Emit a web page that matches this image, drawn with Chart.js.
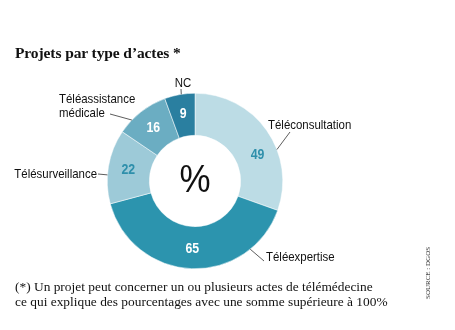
<!DOCTYPE html>
<html>
<head>
<meta charset="utf-8">
<script src="https://cdn.jsdelivr.net/npm/chart.js@4/dist/chart.umd.min.js"></script>
<style>
    html, body { margin: 0; padding: 0; background: #fff; }
    #wrap { position: relative; width: 455px; height: 330px; overflow: hidden; }
    #donut { position: absolute; left: 0; top: 0; }
    .title { position: absolute; left: 15px; top: 44px; font: bold 15.5px "Liberation Serif", serif; color: #111; letter-spacing: -0.1px; }
    .note { position: absolute; left: 15px; font: 13.4px "Liberation Serif", serif; color: #111; white-space: nowrap; }
    .source { position: absolute; left: 428px; top: 273px; font: 7px "Liberation Serif", serif; color: #333; transform: translate(-50%, -50%) rotate(-90deg); white-space: nowrap; }
</style>
</head>
<body>
<div id="wrap">
    <canvas id="donut" width="455" height="330"></canvas>
    <div class="title">Projets par type d’actes *</div>
    <div class="note" style="top: 279px;">(*) Un projet peut concerner un ou plusieurs actes de télémédecine</div>
    <div class="note" style="top: 294px;">ce qui explique des pourcentages avec une somme supérieure à 100%</div>
    <div class="source">SOURCE : DGOS</div>
</div>
<script>
const categories = ["Téléconsultation", "Téléexpertise", "Télésurveillance", "Téléassistance médicale", "NC"];
const percentages = [49, 65, 22, 16, 9];
const sliceColors = ["#bcdce5", "#2c94ae", "#9dcad8", "#6badc2", "#2a7fa0"];
const valueColors = ["#2e8fab", "#ffffff", "#2e8fab", "#ffffff", "#ffffff"];
const valueNudge = [0.22, 0, 0, 0, 0]; // radians, where the printed value sits off the mid angle

// outside label layout: line start angle (deg from top), line end offset from centre, text pos
const outsideLabels = [
    { lines: ["Téléconsultation"], a: 69, end: [95, -49], text: [73, -56], align: "left" },
    { lines: ["Téléexpertise"], a: 141, end: [69, 80], text: [71, 76], align: "left" },
    { lines: ["Télésurveillance"], a: 274, end: [-97, -7], text: [-98, -7], align: "right" },
    { lines: ["Téléassistance", "médicale"], a: 314, end: [-85, -67], text: [-136, -82], align: "left" },
    { lines: ["NC"], a: 351, end: [-14, -92], text: [-12, -98], align: "center" }
];

// condensed look: squeeze the text horizontally
function narrowText(ctx, t, x, y, sx) {
    ctx.save();
    ctx.translate(x, y);
    ctx.scale(sx, 1);
    ctx.fillText(t, 0, 0);
    ctx.restore();
}

const labelPlugin = {
    id: "labelPlugin",
    afterDatasetsDraw(chart) {
        const ctx = chart.ctx;
        const arcs = chart.getDatasetMeta(0).data;
        const cx = arcs[0].x, cy = arcs[0].y;
        const outer = arcs[0].outerRadius, inner = arcs[0].innerRadius;
        ctx.save();

        // values inside the ring
        ctx.font = "bold 15px 'Liberation Sans', sans-serif";
        ctx.textAlign = "center";
        ctx.textBaseline = "middle";
        arcs.forEach(function (arc, i) {
            const mid = (arc.startAngle + arc.endAngle) / 2 + valueNudge[i];
            const r = (inner + outer) / 2 + 1;
            ctx.fillStyle = valueColors[i];
            narrowText(ctx, String(percentages[i]), cx + Math.cos(mid) * r, cy + Math.sin(mid) * r, 0.82);
        });

        // centre sign
        ctx.fillStyle = "#111";
        ctx.font = "38px 'Liberation Sans', sans-serif";
        narrowText(ctx, "%", cx, cy + 1, 0.92);

        // outside labels with leader lines
        ctx.font = "13px 'Liberation Sans', sans-serif";
        ctx.strokeStyle = "#333";
        ctx.lineWidth = 0.8;
        outsideLabels.forEach(function (lab) {
            const ang = (lab.a - 90) * Math.PI / 180;
            ctx.beginPath();
            ctx.moveTo(cx + Math.cos(ang) * outer, cy + Math.sin(ang) * outer);
            ctx.lineTo(cx + lab.end[0], cy + lab.end[1]);
            ctx.stroke();
            ctx.fillStyle = "#111";
            ctx.textAlign = lab.align;
            lab.lines.forEach(function (t, k) {
                narrowText(ctx, t, cx + lab.text[0], cy + lab.text[1] + k * 14, 0.88);
            });
        });
        ctx.restore();
    }
};

document.addEventListener("DOMContentLoaded", function () {
    const donutEl = document.getElementById("donut").getContext("2d");

    new Chart(donutEl, {
        type: "doughnut",
        data: {
            labels: categories,
            datasets: [{
                data: percentages,
                backgroundColor: sliceColors,
                borderColor: "#ffffff",
                borderWidth: 0.5,
            }],
        },
        options: {
            responsive: false,
            animation: false,
            cutout: "52%",
            layout: { padding: { left: 107, right: 172, top: 93, bottom: 61 } },
            plugins: {
                legend: { display: false },
                tooltip: { enabled: false },
            },
        },
        plugins: [labelPlugin],
    });
});
</script>
</body>
</html>
